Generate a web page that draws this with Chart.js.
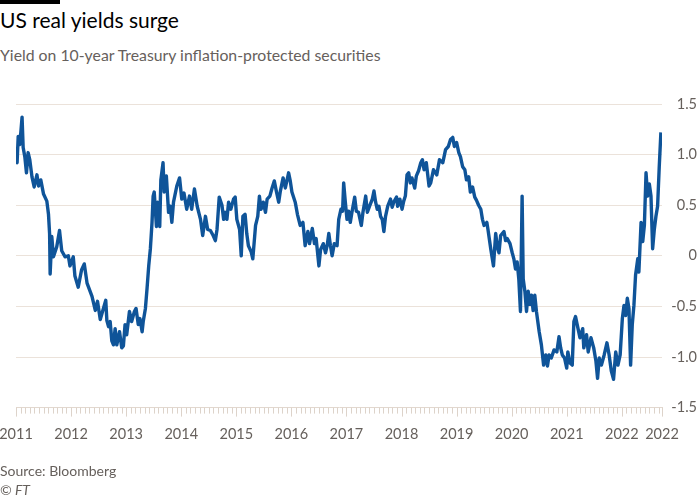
<!DOCTYPE html>
<html>
<head>
<meta charset="utf-8">
<script src="https://cdn.jsdelivr.net/npm/chart.js@4.4.0/dist/chart.umd.min.js"></script>
<style>
  body { margin: 0; background: #fff; font-family: Lato, sans-serif; }
  #wrap { position: relative; width: 700px; height: 500px; overflow: hidden; }
  .bar { position: absolute; left: 0; top: 0; width: 60px; height: 4px; background: #000; }
  .title { position: absolute; left: 0; top: 9px; font-size: 21px; line-height: 1; color: #000; }
  .sub { position: absolute; left: 0; top: 47px; font-size: 15.8px; line-height: 1; color: #66605c; }
  .src { position: absolute; left: 0; top: 464px; font-size: 14px; line-height: 1; color: #66605c; }
  .ft { top: 483px; font-style: italic; }
  #box { position: absolute; left: 0; top: 0; width: 700px; height: 466px; }
</style>
</head>
<body>
<div id="wrap">
  <div class="bar"></div>
  <div class="title">US real yields surge</div>
  <div class="sub">Yield on 10-year Treasury inflation-protected securities</div>
  <div id="box"><canvas id="lineChart"></canvas></div>
  <div class="src">Source: Bloomberg</div>
  <div class="src ft">© FT</div>
</div>
<script>
// 10-year TIPS yield (decimal year, %)
const dates = [
  2011.00, 2011.02, 2011.04, 2011.07, 2011.11, 2011.13, 2011.16, 2011.19, 2011.22, 2011.25,
  2011.29, 2011.33, 2011.38, 2011.41, 2011.45, 2011.50, 2011.56, 2011.59, 2011.61, 2011.62,
  2011.65, 2011.68, 2011.74, 2011.79, 2011.83, 2011.89, 2011.95, 2011.98, 2012.04, 2012.07,
  2012.13, 2012.19, 2012.24, 2012.29, 2012.38, 2012.44, 2012.48, 2012.53, 2012.63, 2012.65,
  2012.68, 2012.71, 2012.74, 2012.77, 2012.80, 2012.83, 2012.88, 2012.92, 2012.95, 2012.98,
  2013.01, 2013.06, 2013.10, 2013.15, 2013.18, 2013.22, 2013.25, 2013.29, 2013.31, 2013.35,
  2013.38, 2013.41, 2013.44, 2013.47, 2013.49, 2013.51, 2013.55, 2013.57, 2013.61, 2013.63,
  2013.67, 2013.69, 2013.73, 2013.77, 2013.80, 2013.83, 2013.86, 2013.92, 2013.97, 2014.01,
  2014.05, 2014.10, 2014.15, 2014.19, 2014.24, 2014.29, 2014.35, 2014.39, 2014.44, 2014.48,
  2014.53, 2014.58, 2014.62, 2014.65, 2014.69, 2014.74, 2014.77, 2014.80, 2014.83, 2014.86,
  2014.90, 2014.95, 2014.98, 2015.01, 2015.06, 2015.09, 2015.12, 2015.16, 2015.19, 2015.22,
  2015.27, 2015.30, 2015.35, 2015.39, 2015.42, 2015.45, 2015.49, 2015.53, 2015.56, 2015.61,
  2015.65, 2015.69, 2015.73, 2015.77, 2015.80, 2015.85, 2015.89, 2015.95, 2015.98, 2016.01,
  2016.07, 2016.11, 2016.16, 2016.21, 2016.25, 2016.30, 2016.33, 2016.38, 2016.42, 2016.45,
  2016.50, 2016.53, 2016.58, 2016.62, 2016.65, 2016.68, 2016.71, 2016.74, 2016.78, 2016.83,
  2016.86, 2016.90, 2016.93, 2016.95, 2016.98, 2017.01, 2017.04, 2017.07, 2017.10, 2017.15,
  2017.18, 2017.22, 2017.27, 2017.30, 2017.35, 2017.38, 2017.42, 2017.47, 2017.50, 2017.53,
  2017.56, 2017.59, 2017.62, 2017.65, 2017.68, 2017.71, 2017.75, 2017.80, 2017.83, 2017.86,
  2017.91, 2017.93, 2017.97, 2018.01, 2018.04, 2018.07, 2018.10, 2018.13, 2018.16, 2018.19,
  2018.24, 2018.27, 2018.31, 2018.35, 2018.38, 2018.41, 2018.45, 2018.50, 2018.53, 2018.58,
  2018.64, 2018.69, 2018.75, 2018.80, 2018.85, 2018.89, 2018.93, 2018.96, 2019.00, 2019.04,
  2019.07, 2019.11, 2019.15, 2019.18, 2019.22, 2019.25, 2019.29, 2019.33, 2019.36, 2019.40,
  2019.44, 2019.47, 2019.50, 2019.55, 2019.57, 2019.62, 2019.67, 2019.71, 2019.74, 2019.77,
  2019.80, 2019.83, 2019.86, 2019.89, 2019.92, 2019.97, 2020.01, 2020.04, 2020.07, 2020.10,
  2020.13, 2020.16, 2020.19, 2020.21, 2020.24, 2020.27, 2020.30, 2020.33, 2020.36, 2020.39,
  2020.42, 2020.45, 2020.50, 2020.54, 2020.58, 2020.62, 2020.65, 2020.68, 2020.72, 2020.77,
  2020.82, 2020.86, 2020.89, 2020.92, 2020.96, 2021.00, 2021.02, 2021.06, 2021.10, 2021.13,
  2021.16, 2021.19, 2021.24, 2021.29, 2021.31, 2021.36, 2021.39, 2021.44, 2021.49, 2021.53,
  2021.56, 2021.59, 2021.63, 2021.68, 2021.73, 2021.77, 2021.81, 2021.85, 2021.89, 2021.93,
  2021.97, 2022.01, 2022.04, 2022.07, 2022.10, 2022.13, 2022.16, 2022.19, 2022.22, 2022.25,
  2022.29, 2022.31, 2022.35, 2022.38, 2022.41, 2022.44, 2022.47, 2022.50, 2022.53, 2022.56,
  2022.59, 2022.62, 2022.65, 2022.68, 2022.71
];
const yields = [
  1.00, 0.92, 1.18, 1.10, 1.37, 1.07, 0.98, 0.82, 1.02, 0.95,
  0.78, 0.68, 0.80, 0.69, 0.75, 0.61, 0.54, 0.41, 0.22, -0.18,
  0.19, -0.01, 0.09, 0.25, 0.05, -0.01, 0.00, -0.10, -0.01, -0.20,
  -0.31, -0.14, -0.08, -0.27, -0.40, -0.54, -0.45, -0.63, -0.44, -0.64,
  -0.70, -0.65, -0.84, -0.88, -0.72, -0.88, -0.75, -0.91, -0.89, -0.68,
  -0.78, -0.55, -0.65, -0.55, -0.52, -0.68, -0.62, -0.75, -0.65, -0.52,
  -0.32, -0.10, 0.07, 0.33, 0.59, 0.63, 0.29, 0.53, 0.29, 0.75,
  0.92, 0.63, 0.79, 0.43, 0.49, 0.33, 0.53, 0.69, 0.77, 0.56,
  0.62, 0.46, 0.59, 0.46, 0.66, 0.49, 0.36, 0.20, 0.39, 0.26,
  0.25, 0.20, 0.15, 0.26, 0.58, 0.50, 0.36, 0.43, 0.36, 0.53,
  0.46, 0.56, 0.58, 0.36, 0.26, 0.00, 0.39, 0.41, 0.22, 0.10,
  0.04, -0.03, 0.30, 0.39, 0.59, 0.46, 0.53, 0.43, 0.56, 0.59,
  0.67, 0.74, 0.63, 0.53, 0.64, 0.77, 0.67, 0.82, 0.74, 0.63,
  0.53, 0.41, 0.30, 0.33, 0.10, 0.24, 0.12, 0.27, 0.12, 0.17,
  -0.10, 0.06, 0.12, 0.03, 0.10, 0.22, 0.10, 0.00, 0.12, 0.10,
  0.36, 0.46, 0.44, 0.72, 0.53, 0.36, 0.44, 0.33, 0.43, 0.58,
  0.44, 0.43, 0.30, 0.43, 0.59, 0.43, 0.49, 0.56, 0.64, 0.53,
  0.46, 0.49, 0.39, 0.36, 0.24, 0.39, 0.49, 0.56, 0.48, 0.53,
  0.58, 0.49, 0.56, 0.46, 0.54, 0.59, 0.80, 0.82, 0.72, 0.77,
  0.67, 0.79, 0.84, 0.92, 0.95, 0.85, 0.92, 0.69, 0.72, 0.85,
  0.80, 0.95, 0.92, 1.05, 1.08, 1.15, 1.17, 1.08, 1.12, 1.02,
  0.98, 0.88, 0.85, 0.75, 0.78, 0.63, 0.68, 0.58, 0.55, 0.50,
  0.46, 0.36, 0.30, 0.33, 0.26, 0.07, -0.10, 0.22, 0.09, 0.03,
  0.20, 0.22, 0.24, 0.15, 0.17, 0.12, 0.03, -0.03, -0.13, -0.06,
  -0.23, -0.55, 0.59, -0.23, -0.35, -0.55, -0.35, -0.48, -0.39, -0.54,
  -0.39, -0.55, -0.75, -0.88, -1.08, -0.98, -1.09, -0.98, -1.01, -0.93,
  -0.95, -0.80, -0.91, -0.98, -1.01, -1.11, -0.95, -1.06, -1.08, -0.65,
  -0.60, -0.68, -0.81, -0.72, -0.91, -0.78, -0.95, -0.81, -0.91, -1.04,
  -1.21, -1.01, -1.08, -0.98, -0.86, -0.98, -1.14, -1.22, -0.95, -1.08,
  -0.98, -0.62, -0.49, -0.59, -0.42, -0.52, -1.08, -0.68, -0.49, -0.19,
  -0.03, -0.16, 0.33, 0.14, 0.30, 0.82, 0.59, 0.71, 0.59, 0.07,
  0.26, 0.39, 0.49, 0.88, 1.22
];

const xStart = 2011;
const xEnd = 2022.73;
const yearTicks = [2011, 2012, 2013, 2014, 2015, 2016, 2017, 2018, 2019, 2020, 2021, 2022, 2022.73];
const yearLabels = ['2011', '2012', '2013', '2014', '2015', '2016', '2017', '2018', '2019', '2020', '2021', '2022', '2022'];
const yieldTicks = [-1.5, -1, -0.5, 0, 0.5, 1, 1.5];
const yieldLabels = ['-1.5', '-1.0', '-0.5', '0', '0.5', '1.0', '1.5'];

const labelColor = '#66605c';
const gridColor = '#ebe2da';

// small monthly tick marks hanging under the x axis
const monthTicks = {
    id: 'monthTicks',
    afterDraw(chart) {
        const xs = chart.scales.x;
        const ctx = chart.ctx;
        const y0 = xs.top;
        ctx.save();
        ctx.strokeStyle = '#ddd3ca';
        ctx.lineWidth = 1;
        const marks = [];
        for (let m = 0; xStart + m / 12 <= xEnd; m++) marks.push([xStart + m / 12, m % 12 === 0]);
        marks.push([xEnd, true]);
        marks.forEach(([v, big]) => {
            const px = Math.round(xs.getPixelForValue(v)) + 0.5;
            ctx.beginPath();
            ctx.moveTo(px, y0);
            ctx.lineTo(px, y0 + (big ? 9 : 6));
            ctx.stroke();
        });
        ctx.restore();
    }
};

const ctx = document.getElementById('lineChart').getContext('2d');
new Chart(ctx, {
    type: 'line',
    data: {
        datasets: [{
            label: '10-year TIPS yield',
            data: dates.map((d, i) => ({ x: d, y: yields[i] })),
            borderColor: '#0f5499',
            borderWidth: 3.4,
            borderJoinStyle: 'round',
            pointRadius: 0,
            tension: 0,
            fill: false
        }]
    },
    options: {
        responsive: true,
        maintainAspectRatio: false,
        animation: false,
        layout: { padding: { top: 104, left: 16, right: 3, bottom: 5 } },
        plugins: { legend: { display: false }, tooltip: { enabled: false } },
        scales: {
            x: {
                type: 'linear',
                min: xStart,
                max: xEnd,
                afterBuildTicks: s => { s.ticks = yearTicks.map(v => ({ value: v })); },
                afterFit: s => { s.paddingLeft = 0; s.paddingRight = 0; },
                ticks: {
                    autoSkip: false,
                    maxRotation: 0,
                    padding: 18,
                    color: labelColor,
                    font: { family: 'Lato', size: 14.5 },
                    callback: (v, i) => yearLabels[i]
                },
                grid: { display: false, drawTicks: false },
                border: { display: true, color: '#e2d8cf', width: 1 }
            },
            y: {
                position: 'right',
                min: -1.5,
                max: 1.5,
                afterBuildTicks: s => { s.ticks = yieldTicks.map(v => ({ value: v })); },
                afterFit: s => { s.width = 35; },
                ticks: {
                    padding: 8,
                    crossAlign: 'far',
                    color: labelColor,
                    font: { family: 'Lato', size: 14.5 },
                    callback: (v, i) => yieldLabels[i]
                },
                grid: {
                    color: c => (c.tick && c.tick.value === -1.5) ? 'rgba(0,0,0,0)' : gridColor,
                    drawTicks: false
                },
                border: { display: false }
            }
        }
    },
    plugins: [monthTicks]
});
</script>
</body>
</html>
